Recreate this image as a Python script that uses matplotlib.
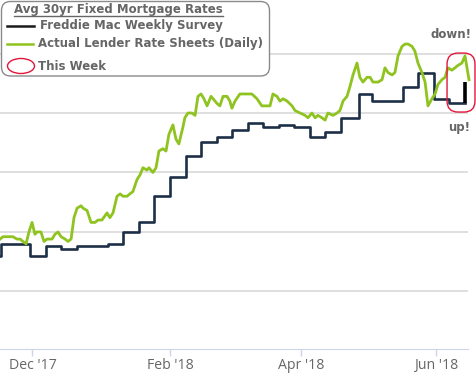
import matplotlib
matplotlib.use("Agg")
import matplotlib.pyplot as plt
import matplotlib.dates as mdates
from matplotlib.patches import FancyBboxPatch, Ellipse
from matplotlib.lines import Line2D
from matplotlib.transforms import IdentityTransform
import pandas as pd

W, H, DPI = 477, 379, 100

# Freddie Mac weekly survey: rate in force from each date
survey_dates = [
    "2017-11-09", "2017-11-17", "2017-11-30", "2017-12-07", "2017-12-14",
    "2017-12-21", "2018-01-04", "2018-01-11", "2018-01-18", "2018-01-25",
    "2018-02-01", "2018-02-08", "2018-02-15", "2018-02-22", "2018-03-01",
    "2018-03-08", "2018-03-15", "2018-03-22", "2018-03-29", "2018-04-05",
    "2018-04-12", "2018-04-19", "2018-04-27", "2018-05-03", "2018-05-17",
    "2018-05-24", "2018-05-31", "2018-06-07",
]
survey_rates = [
    3.90, 3.95, 3.90, 3.94, 3.93,
    3.94, 3.95, 4.00, 4.04, 4.15,
    4.23, 4.32, 4.38, 4.40, 4.43,
    4.46, 4.44, 4.45, 4.44, 4.40,
    4.42, 4.48, 4.58, 4.55, 4.61,
    4.67, 4.56, 4.54,
]
this_week_date = "2018-06-14"
this_week_rate = 4.63

# Daily lender rate sheets (days after 2017-12-01)
sheet_days = [
    -14.6, -13.3, -11.5, -10.1, -8.8, -7.0, -5.6, -4.3, -2.9, -1.6,
    -0.2, 1.1, 2.0, 3.8, 5.2, 6.5, 8.8, 10.1, 11.5, 12.9,
    14.7, 16.0, 17.4, 18.7, 20.1, 21.9, 22.8, 24.6, 26.4, 28.2,
    29.5, 31.3, 33.6, 34.9, 36.3, 38.1, 39.5, 40.8, 42.6, 43.9,
    45.3, 47.1, 48.5, 49.8, 51.6, 52.5, 54.3, 55.7, 57.0, 58.8,
    60.2, 61.5, 63.3, 64.7, 66.0, 67.8, 68.7, 70.1, 71.9, 73.3,
    74.6, 76.0, 77.3, 78.7, 80.5, 81.4, 83.2, 84.5, 85.9, 87.7,
    89.0, 89.9, 91.3, 93.5, 95.8, 98.9, 101.2, 103.4, 105.7, 107.1,
    108.4, 110.2, 111.6, 113.0, 114.8, 117.0, 118.4, 120.6, 122.9, 124.2,
    126.0, 127.4, 128.7, 130.5, 131.9, 133.2, 135.5, 137.3, 138.6, 140.0,
    141.8, 143.1, 144.5, 146.3, 147.6, 149.0, 150.8, 152.2, 153.5, 155.8,
    157.6, 158.9, 160.3, 162.1, 163.4, 164.8, 166.6, 168.0, 169.3, 171.1,
    172.4, 173.8, 175.6, 177.0, 178.3, 180.1, 181.5, 182.8, 184.6, 186.0,
    187.3, 189.1, 190.5, 191.8, 193.6, 195.0, 196.8,
]
sheet_rates = [
    3.97, 3.98, 3.98, 3.98, 3.98, 3.97, 3.97, 3.96, 3.95, 4.00,
    4.04, 3.99, 4.00, 4.00, 3.96, 3.97, 3.97, 3.99, 4.00, 3.98,
    3.97, 3.96, 3.97, 4.06, 4.10, 4.11, 4.10, 4.09, 4.04, 4.04,
    4.05, 4.05, 4.08, 4.06, 4.08, 4.15, 4.16, 4.15, 4.15, 4.16,
    4.17, 4.22, 4.24, 4.27, 4.26, 4.27, 4.25, 4.27, 4.34, 4.35,
    4.34, 4.41, 4.45, 4.39, 4.37, 4.44, 4.48, 4.50, 4.50, 4.49,
    4.57, 4.58, 4.56, 4.53, 4.57, 4.56, 4.54, 4.53, 4.57, 4.57,
    4.55, 4.52, 4.55, 4.58, 4.58, 4.58, 4.56, 4.53, 4.53, 4.53,
    4.58, 4.57, 4.55, 4.56, 4.55, 4.53, 4.51, 4.50, 4.49, 4.48,
    4.50, 4.48, 4.49, 4.48, 4.47, 4.50, 4.49, 4.50, 4.51, 4.55,
    4.57, 4.61, 4.66, 4.71, 4.65, 4.63, 4.65, 4.65, 4.63, 4.63,
    4.64, 4.69, 4.67, 4.66, 4.67, 4.74, 4.78, 4.79, 4.79, 4.78,
    4.76, 4.71, 4.67, 4.63, 4.53, 4.56, 4.58, 4.62, 4.64, 4.65,
    4.69, 4.68, 4.69, 4.70, 4.71, 4.74, 4.64,
]

NAVY = "#1d2f47"
GREEN = "#8fc31f"
RED = "#e2163a"
GREY_TEXT = "#666666"

base = mdates.date2num(pd.Timestamp("2017-12-01"))
sheet_x = [base + d for d in sheet_days]
tw = mdates.date2num(pd.Timestamp(this_week_date))
step_x = list(mdates.date2num(pd.to_datetime(survey_dates))) + [tw]
step_y = survey_rates + [survey_rates[-1]]

fig = plt.figure(figsize=(W / DPI, H / DPI), dpi=DPI)
ax = fig.add_axes([0, 30 / H, 468 / W, 349 / H])

ax.step(step_x, step_y, where="post", color=NAVY, lw=1.9, zorder=3)
ax.plot([tw, tw], [survey_rates[-1], this_week_rate], color="black", lw=2.6,
        zorder=4, solid_capstyle="butt")
ax.plot(sheet_x, sheet_rates, color=GREEN, lw=2.0, zorder=5,
        solid_joinstyle="round", clip_on=False)

ax.set_xlim(base - 14.65, base + 196.35)
ax.set_ylim(3.508, 4.975)
ax.set_yticks([3.75, 4.0, 4.25, 4.5, 4.75])
ax.yaxis.grid(True, color="#d6d6d6", lw=1.1)
ax.tick_params(axis="y", left=False, labelleft=False)
ax.xaxis.set_major_locator(mdates.MonthLocator(bymonth=[12, 2, 4, 6]))
ax.xaxis.set_major_formatter(mdates.DateFormatter("%b '%y"))
ax.tick_params(axis="x", direction="out", length=5, width=1, color="#ccd6eb",
               labelcolor=GREY_TEXT, labelsize=10.2, pad=1.2)
for lab in ax.get_xticklabels():
    lab.set_fontfamily("Open Sans")
for side in ("top", "left", "right"):
    ax.spines[side].set_visible(False)
ax.spines["bottom"].set_color("#ccd6eb")

# highlight around this week's data
fig.canvas.draw()
x0, y0 = ax.transData.transform((tw - 8.1, 4.504))
x1, y1 = ax.transData.transform((tw + 4.5, 4.752))
fig.add_artist(FancyBboxPatch((x0, y0), x1 - x0, y1 - y0,
                              boxstyle="round,pad=0,rounding_size=11",
                              transform=IdentityTransform(), fc="none",
                              ec=RED, lw=1.0, zorder=6))

fig.text(472 / W, 1 - 35 / H, "down!", ha="right", va="center",
         fontsize=8.5, fontweight="bold", color=GREY_TEXT)
fig.text(470 / W, 1 - 128 / H, "up!", ha="right", va="center",
         fontsize=8.5, fontweight="bold", color=GREY_TEXT)

# legend box
fig.add_artist(FancyBboxPatch((1.5, H - 76), 268, 74.5,
                              boxstyle="round,pad=0,rounding_size=9",
                              transform=IdentityTransform(), fc="white",
                              ec="#8a8a8a", lw=1.0, zorder=7))
title = fig.text(14 / W, 1 - 10 / H, "Avg 30yr Fixed Mortgage Rates",
                 ha="left", va="center", fontsize=8.5, fontweight="bold",
                 color=GREY_TEXT, zorder=8)
fig.add_artist(Line2D([7, 34], [H - 26, H - 26], transform=IdentityTransform(),
                      color="#1a1a1a", lw=1.8, zorder=8))
fig.add_artist(Line2D([7, 33], [H - 44, H - 44], transform=IdentityTransform(),
                      color=GREEN, lw=1.8, zorder=8))
fig.add_artist(Ellipse((21, H - 66), 27, 15, transform=IdentityTransform(),
                       fc="none", ec=RED, lw=1.0, zorder=8))
entries = [("Freddie Mac Weekly Survey", 40, 26),
           ("Actual Lender Rate Sheets (Daily)", 38, 44),
           ("This Week", 38, 66)]
for label, x, y in entries:
    fig.text(x / W, 1 - y / H, label, ha="left", va="center", fontsize=8.45,
             fontweight="bold", color=GREY_TEXT, zorder=8)

fig.canvas.draw()
bb = title.get_window_extent()
fig.add_artist(Line2D([bb.x0, bb.x1], [bb.y0 + 1, bb.y0 + 1],
                      transform=IdentityTransform(), color=GREY_TEXT, lw=1.0,
                      zorder=8))

fig.savefig("out.png", dpi=DPI, facecolor="white")
